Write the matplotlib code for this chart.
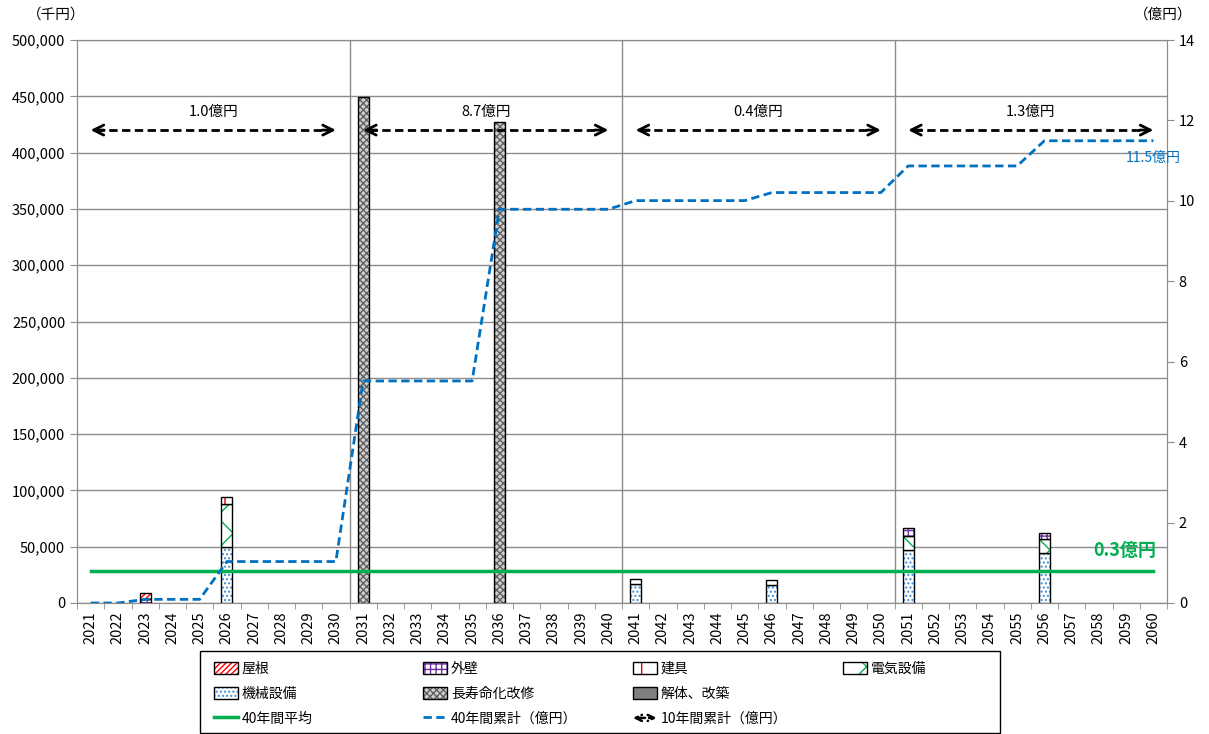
import numpy as np
import matplotlib.pyplot as plt
from matplotlib.patches import Patch, FancyArrowPatch, Rectangle
from matplotlib.lines import Line2D
from matplotlib.legend_handler import HandlerTuple, HandlerBase
from matplotlib.ticker import FuncFormatter, MultipleLocator

plt.rcParams['font.family'] = ['Noto Sans CJK JP', 'DejaVu Sans']
plt.rcParams['hatch.linewidth'] = 1.0

years = list(range(2021, 2061))

# 千円, by year
roof = {2023: 5300}
wall = {2023: 3800, 2051: 6500, 2056: 5500}
fittings = {2026: 6000}
electrical = {2026: 38000, 2041: 4500, 2046: 4000, 2051: 12700, 2056: 12400}
mechanical = {2026: 50000, 2041: 17000, 2046: 16000, 2051: 47000, 2056: 44700}
renewal = {2031: 449000, 2036: 427000}
rebuild = {}

decade_labels = ['1.0億円', '8.7億円', '0.4億円', '1.3億円']

# bottom -> top: (label, data, face, hatch colour, hatch)
stack = [
    ('解体、改築', rebuild, '#7f7f7f', '#7f7f7f', ''),
    ('長寿命化改修', renewal, '#d0d0d0', '#606060', 'xxxxx'),
    ('機械設備', mechanical, 'white', '#3f8fdc', '....'),
    ('電気設備', electrical, 'white', '#00b050', 'x'),
    ('建具', fittings, 'white', '#e00000', '|'),
    ('外壁', wall, 'white', '#7030a0', '+++'),
    ('屋根', roof, 'white', '#ff0000', '//////'),
]

x = np.arange(len(years))
grid_c = '#8c8c8c'

fig = plt.figure(figsize=(12.09, 7.34), dpi=100)
ax = fig.add_axes([77 / 1209, 1 - 603 / 734, 1090 / 1209, 563 / 734])
ax2 = ax.twinx()

bottom = np.zeros(len(years))
handles = {}
for name, data, face, hc, h in stack:
    vals = np.array([data.get(y, 0) for y in years], float)
    m = vals > 0
    if m.any():
        ax.bar(x[m], vals[m], 0.4, bottom=bottom[m], color=face, edgecolor=hc,
               hatch=h, linewidth=0, zorder=3)
        ax.bar(x[m], vals[m], 0.4, bottom=bottom[m], fill=False,
               edgecolor='black', linewidth=1, zorder=3)
    bottom += vals
    handles[name] = (Patch(facecolor=face, edgecolor=hc, hatch=h, linewidth=0),
                     Patch(fill=False, edgecolor='black', linewidth=1))
total = bottom

avg = total.sum() / len(years)
cum = np.cumsum(total) / 100000

ax.plot(x, np.full(len(years), avg), color='#00b050', lw=2.5, zorder=4)
ax2.plot(x, cum, color='#0070c0', lw=2, ls='--', dashes=(3, 1.6), zorder=5)

# decade arrows
arrow_y = 420000
for i, lab in enumerate(decade_labels):
    x0, x1 = x[i * 10], x[i * 10 + 9]
    ax.plot([x0 + 0.2, x1 - 0.2], [arrow_y, arrow_y], color='black', lw=2,
            ls='--', dashes=(3, 1.6), zorder=4)
    for a, b in ((x0, x0 + 0.5), (x1, x1 - 0.5)):
        ax.annotate('', xy=(a, arrow_y), xytext=(b, arrow_y),
                    arrowprops=dict(arrowstyle='->', lw=2, color='black',
                                    mutation_scale=18, shrinkA=0, shrinkB=0),
                    zorder=4)
    ax.text((x0 + x1) / 2, 436000, lab, ha='center', va='center', fontsize=10.5)

ax2.text(39, 11.07, '%.1f億円' % cum[-1], ha='center', va='center',
         color='#0070c0', fontsize=10, clip_on=False)
ax.text(37.96, 47000, '%.1f億円' % (avg / 100000), ha='center', va='center',
        color='#00b050', fontsize=13, fontweight='bold', zorder=6)

ax.set_xlim(-0.5, len(years) - 0.5)
ax.set_ylim(0, 500000)
ax2.set_ylim(0, 14)
ax.yaxis.set_major_locator(MultipleLocator(50000))
ax.yaxis.set_major_formatter(FuncFormatter(lambda v, p: f'{int(v):,}'))
ax2.yaxis.set_major_locator(MultipleLocator(2))

ax.set_xticks(x)
ax.set_xticklabels([str(y) for y in years], rotation=90, fontsize=10.5)
ax.set_xticks(np.arange(-0.5, len(years), 1), minor=True)
ax.tick_params(axis='x', which='major', length=0, pad=6)
ax.tick_params(axis='x', which='minor', length=4, color=grid_c)
ax.tick_params(axis='y', length=5, color=grid_c, labelsize=10.5)
ax2.tick_params(axis='y', length=5, color=grid_c, labelsize=10.5)

ax.grid(axis='y', color=grid_c, lw=1, zorder=0)
ax.set_axisbelow(True)
for xv in (9.5, 19.5, 29.5):
    ax.axvline(xv, color=grid_c, lw=1, zorder=1)
for a in (ax, ax2):
    for s in a.spines.values():
        s.set_color(grid_c)

fig.text(56 / 1209, 1 - 15 / 734, '（千円）', ha='center', va='center', fontsize=10.5)
fig.text(1163 / 1209, 1 - 15 / 734, '（億円）', ha='center', va='center', fontsize=10.5)


class ArrowHandler(HandlerBase):
    def create_artists(self, legend, orig, xd, yd, width, height, fontsize, trans):
        y = height / 2 - yd
        p = FancyArrowPatch((-xd, y), (width - xd, y), arrowstyle='<->',
                            mutation_scale=11, lw=1.8, color='black',
                            linestyle='--', shrinkA=0, shrinkB=0, transform=trans)
        return [p]


avg_h = Line2D([], [], color='#00b050', lw=2.5)
cum_h = Line2D([], [], color='#0070c0', lw=2, ls='--', dashes=(3, 1.6))
arr_h = Line2D([], [], color='black')

columns = [
    [(handles['屋根'], '屋根'), (handles['機械設備'], '機械設備'), (avg_h, '40年間平均')],
    [(handles['外壁'], '外壁'), (handles['長寿命化改修'], '長寿命化改修'),
     (cum_h, '40年間累計（億円）')],
    [(handles['建具'], '建具'), (handles['解体、改築'], '解体、改築'),
     (arr_h, '10年間累計（億円）')],
    [(handles['電気設備'], '電気設備')],
]
col_x = [214, 423, 633, 843]

fig.patches.append(Rectangle((200 / 1209, 1 / 734), 800 / 1209, 82 / 734,
                             transform=fig.transFigure, fill=False,
                             edgecolor='black', lw=1))
for cx, col in zip(col_x, columns):
    fig.legend([c[0] for c in col], [c[1] for c in col], loc='upper left',
               bbox_to_anchor=(cx / 1209, 1 - 662 / 734), frameon=False,
               borderpad=0, borderaxespad=0, fontsize=10, handlelength=1.7,
               handleheight=1.0, handletextpad=0.3, labelspacing=0.78,
               handler_map={tuple: HandlerTuple(ndivide=1, pad=0),
                            arr_h: ArrowHandler()})

fig.savefig('out.png', dpi=100)
